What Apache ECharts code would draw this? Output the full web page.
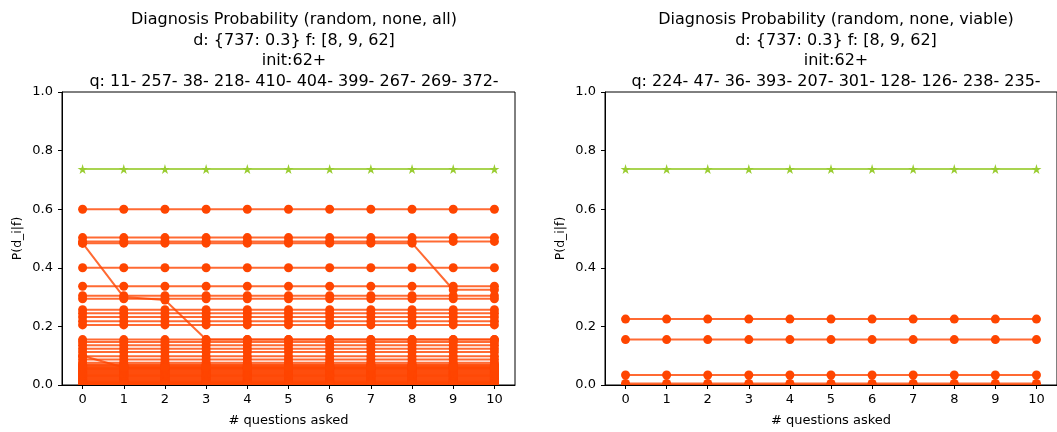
<!DOCTYPE html>
<html>
<head>
<meta charset="utf-8">
<script src="https://cdn.jsdelivr.net/npm/echarts@6/dist/echarts.min.js"></script>
<style>
html,body{margin:0;padding:0;background:#fff;}
#chart{width:1057px;height:432px;}
</style>
</head>
<body>
<div id="chart"></div>
<script>
// ---- data ----
const questions = ['0','1','2','3','4','5','6','7','8','9','10'];
const yTicks = [0, 0.2, 0.4, 0.6, 0.8, 1.0];

const titleAll = 'Diagnosis Probability (random, none, all)\nd: {737: 0.3} f: [8, 9, 62]\ninit:62+\nq: 11- 257- 38- 218- 410- 404- 399- 267- 269- 372-';
const titleViable = 'Diagnosis Probability (random, none, viable)\nd: {737: 0.3} f: [8, 9, 62]\ninit:62+\nq: 224- 47- 36- 393- 207- 301- 128- 126- 238- 235-';

// true diagnosis (green stars), same in both panels
const trueDiagAll =    [0.737,0.737,0.737,0.737,0.737,0.737,0.737,0.737,0.737,0.737,0.737];
const trueDiagViable = [0.737,0.737,0.737,0.737,0.737,0.737,0.737,0.737,0.737,0.737,0.737];

// left panel: diagnoses whose probability stays constant over all questions
const flatLevelsAll = [0.6, 0.503, 0.49, 0.4, 0.337, 0.305, 0.294, 0.257, 0.245, 0.232, 0.218, 0.205,
  0.155, 0.147, 0.136, 0.124, 0.113, 0.098, 0.087, 0.076,
  0.07, 0.067, 0.064, 0.061, 0.058, 0.055, 0.052, 0.049, 0.046, 0.043, 0.04, 0.037, 0.034, 0.031, 0.028,
  0.025, 0.022, 0.019, 0.016, 0.013, 0.011, 0.009, 0.007, 0.005, 0.003, 0.001, 0.0];
// left panel: diagnoses whose probability changes
const dropEarly = [0.484, 0.3, 0.29, 0.155, 0.155, 0.155, 0.155, 0.155, 0.155, 0.155, 0.155];
const dropLate  = [0.484, 0.484, 0.484, 0.484, 0.484, 0.484, 0.484, 0.484, 0.484, 0.325, 0.325];
const dropSmall = [0.1, 0.06, 0.06, 0.06, 0.06, 0.06, 0.06, 0.06, 0.06, 0.06, 0.06];

// right panel: constant diagnoses
const flatLevelsViable = [0.225, 0.155, 0.034, 0.005, 0.0];

// ---- styling ----
const FONT = 'DejaVu Sans';
const INK = '#000';
const ORANGE = '#ff4500';
const ORANGE_LINE = 'rgba(255,69,0,0.8)';
const GREEN = '#9acd32';
const GREEN_LINE = 'rgba(154,205,50,0.85)';
const STAR = 'path://M50,0 L61,35 L98,35 L68,57 L79,91 L50,70 L21,91 L32,57 L2,35 L39,35 Z';

const grids = [
  {left: 62, top: 92, width: 453, height: 293.5},
  {left: 605, top: 92, width: 453, height: 293.5}
];

function orangeSeries(vals, gi){
  return {type:'line', xAxisIndex:gi, yAxisIndex:gi, data: vals, symbol:'circle', symbolSize:9,
    lineStyle:{color:ORANGE_LINE, width:2}, itemStyle:{color:ORANGE}, z:2, silent:true, animation:false};
}
function greenSeries(vals, gi){
  return {type:'line', xAxisIndex:gi, yAxisIndex:gi, data: vals, symbol:STAR, symbolSize:10,
    lineStyle:{color:GREEN_LINE, width:2}, itemStyle:{color:GREEN}, z:3, silent:true, animation:false};
}

const series = [];
flatLevelsAll.forEach(v => series.push(orangeSeries(questions.map(() => v), 0)));
[dropEarly, dropLate, dropSmall].forEach(a => series.push(orangeSeries(a, 0)));
series.push(greenSeries(trueDiagAll, 0));
flatLevelsViable.forEach(v => series.push(orangeSeries(questions.map(() => v), 1)));
series.push(greenSeries(trueDiagViable, 1));

function xAxis(gi){
  return {type:'category', gridIndex:gi, data:questions, boundaryGap:true, z:100,
    name:'# questions asked', nameLocation:'middle', nameGap:29,
    nameTextStyle:{fontFamily:FONT, fontSize:13, color:INK},
    axisLine:{show:true, lineStyle:{color:INK, width:1}},
    axisTick:{show:true, alignWithLabel:true, length:4, lineStyle:{color:INK}},
    axisLabel:{fontFamily:FONT, fontSize:13, color:INK, margin:8},
    splitLine:{show:false}};
}
function yAxis(gi){
  return {type:'value', gridIndex:gi, min:0, max:1, interval:0.2, z:100,
    name:'P(d_i|f)', nameLocation:'middle', nameGap:38,
    nameTextStyle:{fontFamily:FONT, fontSize:12.5, color:INK},
    axisLine:{show:true, lineStyle:{color:INK, width:1}},
    axisTick:{show:true, length:4, lineStyle:{color:INK}},
    axisLabel:{fontFamily:FONT, fontSize:13, color:INK, margin:9,
      formatter: v => yTicks.includes(+v.toFixed(1)) ? v.toFixed(1) : ''},
    splitLine:{show:false}};
}

const titleStyle = {fontFamily:FONT, fontSize:16, fontWeight:'normal', color:INK, lineHeight:20.5};
const option = {
  animation:false,
  backgroundColor:'#fff',
  title:[
    {text:titleAll, left:289, top:5, textAlign:'center', textStyle:titleStyle},
    {text:titleViable, left:831, top:5, textAlign:'center', textStyle:titleStyle}
  ],
  grid: grids.map(g => Object.assign({show:true, borderColor:INK, borderWidth:1, backgroundColor:'transparent'}, g)),
  xAxis:[xAxis(0), xAxis(1)],
  yAxis:[yAxis(0), yAxis(1)],
  graphic:[
    {type:'rect', z:50, silent:true, shape:{x:grids[0].left+1, y:grids[0].top+grids[0].height+0.5, width:grids[0].width-2, height:6}, style:{fill:'#fff'}},
    {type:'rect', z:50, silent:true, shape:{x:grids[1].left+1, y:grids[1].top+grids[1].height+0.5, width:grids[1].width-2, height:6}, style:{fill:'#fff'}}
  ],
  series: series
};

const chart = echarts.init(document.getElementById('chart'), null, {renderer:'canvas'});
chart.setOption(option);
</script>
</body>
</html>
